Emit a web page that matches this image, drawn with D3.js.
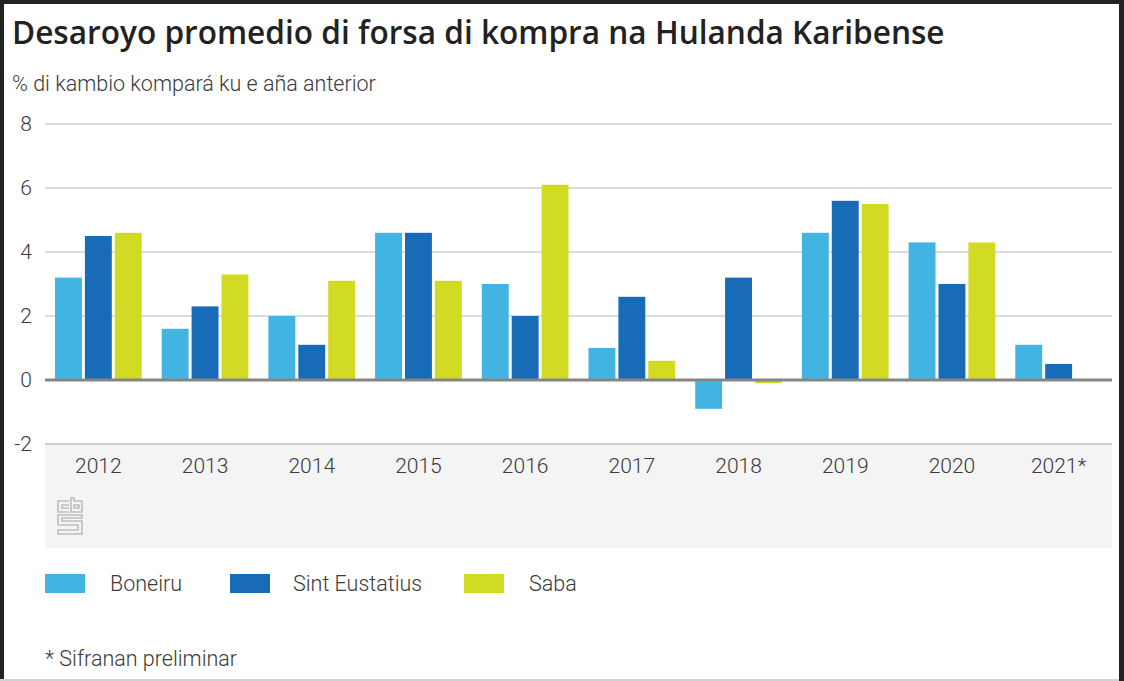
<!DOCTYPE html>
<html>
<head>
<meta charset="utf-8">
<script src="https://cdn.jsdelivr.net/npm/d3@7"></script>
<style>
  body { margin: 0; background: #fff; }
  text { font-family: Roboto, "Open Sans", sans-serif; fill: #3a3a3a; font-weight: 300; }
  .title { font-family: "Open Sans", sans-serif; font-weight: 600; fill: #222; }
</style>
</head>
<body>
<div id="chart"></div>
<script>
// years on the x axis
var years = ["2012","2013","2014","2015","2016","2017","2018","2019","2020","2021*"];
var seriesNames = ["Boneiru", "Sint Eustatius", "Saba"];
// % change vs previous year
var boneiru   = [3.2, 1.6, 2.0, 4.6, 3.0, 1.0, -0.9, 4.6, 4.3, 1.1];
var eustatius = [4.5, 2.3, 1.1, 4.6, 2.0, 2.6, 3.2, 5.6, 3.0, 0.5];
var saba      = [4.6, 3.3, 3.1, 3.1, 6.1, 0.6, -0.1, 5.5, 4.3, null];
var yTicks = [-2, 0, 2, 4, 6, 8];
var colors = ["#41b4e1", "#176bb7", "#d2db24"];

var W = 1124, H = 681;

var svg = d3.select("#chart").append("svg")
    .attr("width", W).attr("height", H);

var x0 = d3.scaleBand().domain(years).range([45, 1112]).padding(0);
var x1 = d3.scaleBand().domain(seriesNames).range([10, x0.bandwidth() - 10]).paddingInner(0.1);
var y = d3.scaleLinear().domain([-2, 8]).range([444, 124]);

// grey band behind x labels
svg.append("rect")
    .attr("x", 45).attr("y", y(-2))
    .attr("width", 1112 - 45).attr("height", 548 - y(-2))
    .attr("fill", "#f4f4f4");

// title + subtitle
svg.append("text").attr("class", "title")
    .attr("x", 12).attr("y", 44)
    .style("font-size", "31.6px")
    .text("Desaroyo promedio di forsa di kompra na Hulanda Karibense");
svg.append("text")
    .attr("x", 12).attr("y", 91)
    .style("font-size", "21.5px")
    .text("% di kambio kompará ku e aña anterior");

// gridlines
svg.append("g").selectAll("line")
    .data(yTicks.filter(function(d) { return d != 0; }))
    .enter().append("line")
    .attr("x1", 45).attr("x2", 1112)
    .attr("y1", function(d) { return y(d); })
    .attr("y2", function(d) { return y(d); })
    .style("stroke", function(d) { return d == -2 ? "#cfcfcf" : "#dcdcdc"; })
    .style("stroke-width", 2);

// y tick labels
svg.append("g").selectAll("text")
    .data(yTicks)
    .enter().append("text")
    .attr("x", 32)
    .attr("y", function(d) { return y(d) + 7; })
    .attr("text-anchor", "end")
    .style("font-size", "21px")
    .text(function(d) { return d; });

// bars
var allSeries = [boneiru, eustatius, saba];
var groups = svg.append("g").selectAll("g")
    .data(years)
    .enter().append("g")
    .attr("transform", function(d) { return "translate(" + x0(d) + ",0)"; });

groups.selectAll("rect")
    .data(function(d, i) {
      return seriesNames.map(function(s, j) { return {key: s, value: allSeries[j][i], c: colors[j]}; })
        .filter(function(e) { return e.value !== null; });
    })
    .enter().append("rect")
    .attr("x", function(d) { return x1(d.key); })
    .attr("width", x1.bandwidth())
    .attr("y", function(d) { return y(Math.max(0, d.value)); })
    .attr("height", function(d) { return Math.abs(y(d.value) - y(0)); })
    .style("fill", function(d) { return d.c; });

// zero line
svg.append("line")
    .attr("x1", 45).attr("x2", 1112)
    .attr("y1", y(0)).attr("y2", y(0))
    .style("stroke", "#858585")
    .style("stroke-width", 3);

// x labels
svg.append("g").selectAll("text")
    .data(years)
    .enter().append("text")
    .attr("x", function(d) { return x0(d) + x0.bandwidth() / 2; })
    .attr("y", 473)
    .attr("text-anchor", "middle")
    .style("font-size", "21px")
    .text(function(d) { return d; });

// cbs logo (rough outline)
var logo = svg.append("g")
    .attr("transform", "translate(57,497)")
    .style("fill", "none")
    .style("stroke", "#bdbdbd")
    .style("stroke-width", 1.6);
logo.append("path").attr("d", "M12,4 H1 V15 H12 M12,8 H5 V11 H12");
logo.append("path").attr("d", "M14,1 V15 H25 V4 H17 V1 Z M17,8 H22 V11 H17 Z");
logo.append("path").attr("d", "M25,18 H1 V28 H21 V33 H1 V37 H25 V24 H5 V21 H25 Z");

// legend
var legendX = [45, 230, 464];
var leg = svg.append("g").selectAll("g")
    .data(seriesNames)
    .enter().append("g")
    .attr("transform", function(d, i) { return "translate(" + legendX[i] + ",574)"; });
leg.append("rect")
    .attr("width", 40).attr("height", 19)
    .style("fill", function(d, i) { return colors[i]; });
leg.append("text")
    .attr("x", function(d, i) { return i == 1 ? 63 : 65; })
    .attr("y", 17)
    .style("font-size", "21.5px")
    .text(function(d) { return d; });

// footnote
svg.append("text")
    .attr("x", 45).attr("y", 666)
    .style("font-size", "21.5px")
    .text("* Sifranan preliminar");

// frame
svg.append("rect").attr("x", 0).attr("y", 0).attr("width", 4).attr("height", H).style("fill", "#222");
svg.append("rect").attr("x", 0).attr("y", 0).attr("width", W).attr("height", 4).style("fill", "#222");
svg.append("rect").attr("x", 1119).attr("y", 0).attr("width", 5).attr("height", H).style("fill", "#222");
svg.append("rect").attr("x", 0).attr("y", 679).attr("width", 1119).attr("height", 2).style("fill", "#d0d0d0");
</script>
</body>
</html>
